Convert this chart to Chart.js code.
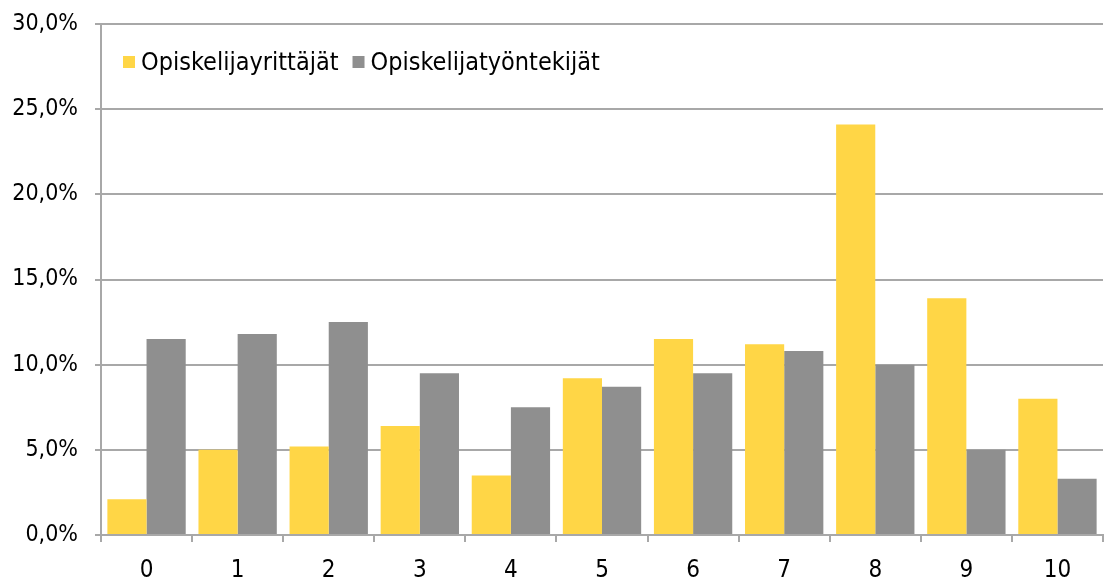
<!DOCTYPE html>
<html>
<head>
<meta charset="utf-8">
<script src="https://cdn.jsdelivr.net/npm/chart.js@4.4.0/dist/chart.umd.min.js"></script>
<style>
html,body{margin:0;padding:0;background:#fff;}
#wrap{width:1105px;height:582px;}
</style>
</head>
<body>
<div id="wrap"><canvas id="c" width="1105" height="582"></canvas></div>
<script>
const categories = ['0','1','2','3','4','5','6','7','8','9','10'];
const seriesNames = ['Opiskelijayrittäjät','Opiskelijatyöntekijät'];
const yrittajat = [2.1, 5.0, 5.2, 6.4, 3.5, 9.2, 11.5, 11.2, 24.1, 13.9, 8.0];
const tyontekijat = [11.5, 11.8, 12.5, 9.5, 7.5, 8.7, 9.5, 10.8, 10.0, 5.0, 3.3];
const yTicks = [0, 5, 10, 15, 20, 25, 30];

const FONT = "'DejaVu Sans Condensed', 'DejaVu Sans', sans-serif";
const TEXT = '#000000';
const GRID = '#a8a8a8';

// Legend drawn inside the plot area, top-left, in a single row
const insideLegend = {
  id: 'insideLegend',
  afterDraw(chart) {
    const ctx = chart.ctx;
    const area = chart.chartArea;
    ctx.save();
    ctx.font = "25px " + FONT;
    ctx.textBaseline = 'middle';
    ctx.textAlign = 'left';
    let x = area.left + 22;
    const boxTop = area.top + 32;
    const box = 12;
    chart.data.datasets.forEach((ds) => {
      ctx.fillStyle = ds.backgroundColor;
      ctx.fillRect(x, boxTop, box, box);
      const tx = x + box + 6;
      ctx.fillStyle = TEXT;
      ctx.fillText(ds.label, tx, boxTop + box / 2 + 1);
      x = tx + ctx.measureText(ds.label).width + 14;
    });
    ctx.restore();
  }
};

new Chart(document.getElementById('c'), {
  type: 'bar',
  data: {
    labels: categories,
    datasets: [
      {label: seriesNames[0], data: yrittajat, backgroundColor: '#FFD646', categoryPercentage: 0.86, barPercentage: 1.0},
      {label: seriesNames[1], data: tyontekijat, backgroundColor: '#8F8F8F', categoryPercentage: 0.86, barPercentage: 1.0}
    ]
  },
  plugins: [insideLegend],
  options: {
    responsive: false,
    animation: false,
    devicePixelRatio: 1,
    layout: {padding: {top: 24, right: 2, left: 0, bottom: 0}},
    plugins: {
      tooltip: {enabled: false},
      legend: {display: false}
    },
    scales: {
      x: {
        grid: {offset: true, drawOnChartArea: false, drawTicks: true, tickLength: 7, color: GRID, lineWidth: 2},
        border: {display: true, color: GRID, width: 2},
        ticks: {color: TEXT, font: {family: FONT, size: 24}, padding: 14, maxRotation: 0},
        afterFit: (s) => { s.height = 47; s.paddingLeft = 0; s.paddingRight = 0; }
      },
      y: {
        min: 0, max: 30,
        afterBuildTicks: (s) => { s.ticks = yTicks.map(v => ({value: v})); },
        grid: {drawTicks: true, tickLength: 6, color: GRID, lineWidth: 2},
        border: {display: true, color: GRID, width: 2},
        ticks: {
          color: TEXT, font: {family: FONT, size: 23}, padding: 17,
          callback: (v) => v.toFixed(1).replace('.', ',') + '%'
        },
        afterFit: (s) => { s.width = 101; s.paddingTop = 0; s.paddingBottom = 0; }
      }
    }
  }
});
</script>
</body>
</html>
